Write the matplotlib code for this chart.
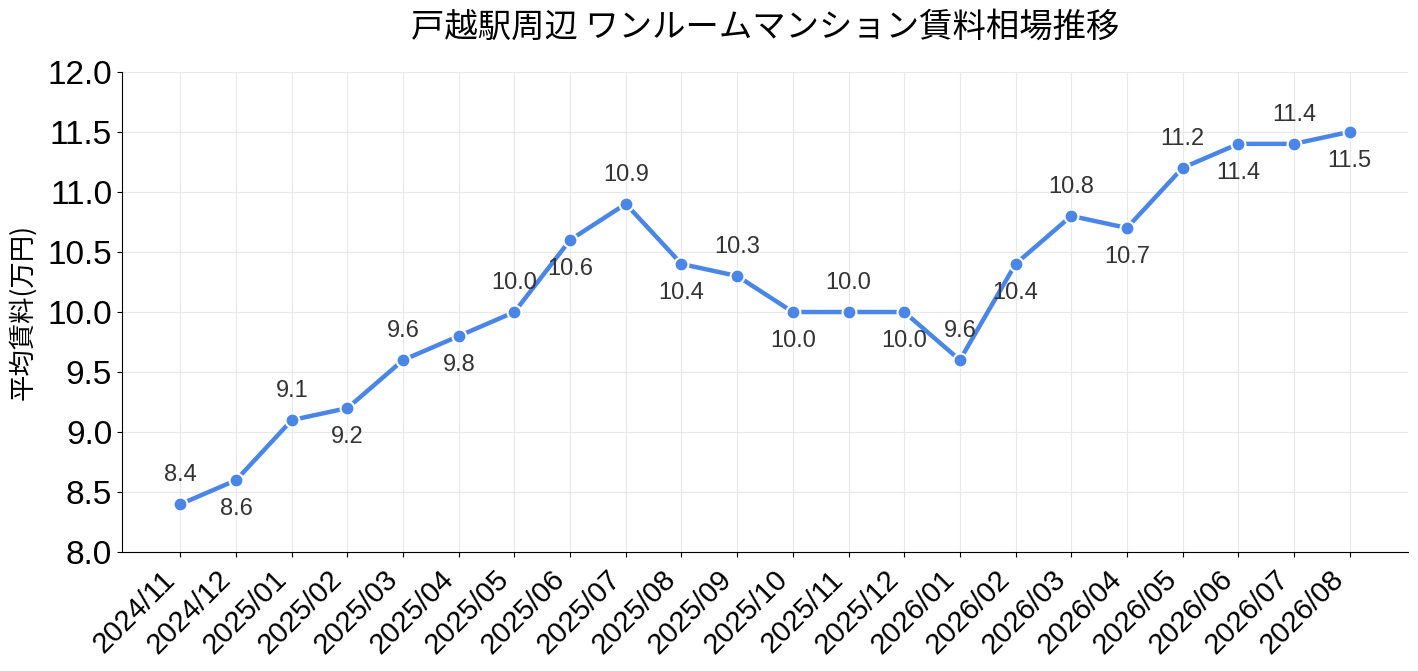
import matplotlib
matplotlib.use("Agg")
import matplotlib.pyplot as plt

months = ["2024/11", "2024/12", "2025/01", "2025/02", "2025/03", "2025/04",
          "2025/05", "2025/06", "2025/07", "2025/08", "2025/09", "2025/10",
          "2025/11", "2025/12", "2026/01", "2026/02", "2026/03", "2026/04",
          "2026/05", "2026/06", "2026/07", "2026/08"]
rent = [8.4, 8.6, 9.1, 9.2, 9.6, 9.8, 10.0, 10.6, 10.9, 10.4, 10.3, 10.0,
        10.0, 10.0, 9.6, 10.4, 10.8, 10.7, 11.2, 11.4, 11.4, 11.5]
yticks = [8.0, 8.5, 9.0, 9.5, 10.0, 10.5, 11.0, 11.5, 12.0]
title = "戸越駅周辺 ワンルームマンション賃料相場推移"
ylabel = "平均賃料(万円)"

plt.rcParams['font.family'] = ['Noto Sans CJK JP', 'DejaVu Sans']
num_font = ['Liberation Sans', 'Noto Sans CJK JP', 'DejaVu Sans']

fig, ax = plt.subplots(figsize=(14.18, 6.71), dpi=100)
fig.subplots_adjust(left=0.086, right=0.993, top=0.893, bottom=0.177)

x = list(range(len(months)))
ax.plot(x, rent, color='#4A86E8', linewidth=3.2, marker='o', markersize=10,
        markeredgecolor='white', markeredgewidth=1.5, zorder=3)

for i, v in enumerate(rent):
    off = 21 if i % 2 == 0 else -21
    ax.annotate(f"{v:.1f}", (i, v), xytext=(0, off), textcoords='offset points',
                ha='center', va='center', fontsize=17, color='#333333',
                family=num_font)

ax.set_ylim(8.0, 12.0)
ax.set_yticks(yticks)
ax.set_yticklabels([f"{t:.1f}" for t in yticks], fontsize=24, family=num_font)
ax.set_xlim(-1.05, 22.05)
ax.set_xticks(x)
ax.set_xticklabels(months, rotation=45, ha='right', fontsize=21, family=num_font)
ax.tick_params(axis='x', pad=6)
ax.set_ylabel(ylabel, fontsize=19, labelpad=8)
ax.set_title(title, fontsize=24, pad=25)

ax.grid(True, color='#e8e8e8', linewidth=0.8)
ax.set_axisbelow(True)
for s in ['top', 'right']:
    ax.spines[s].set_visible(False)

fig.savefig("out.png", dpi=100)
